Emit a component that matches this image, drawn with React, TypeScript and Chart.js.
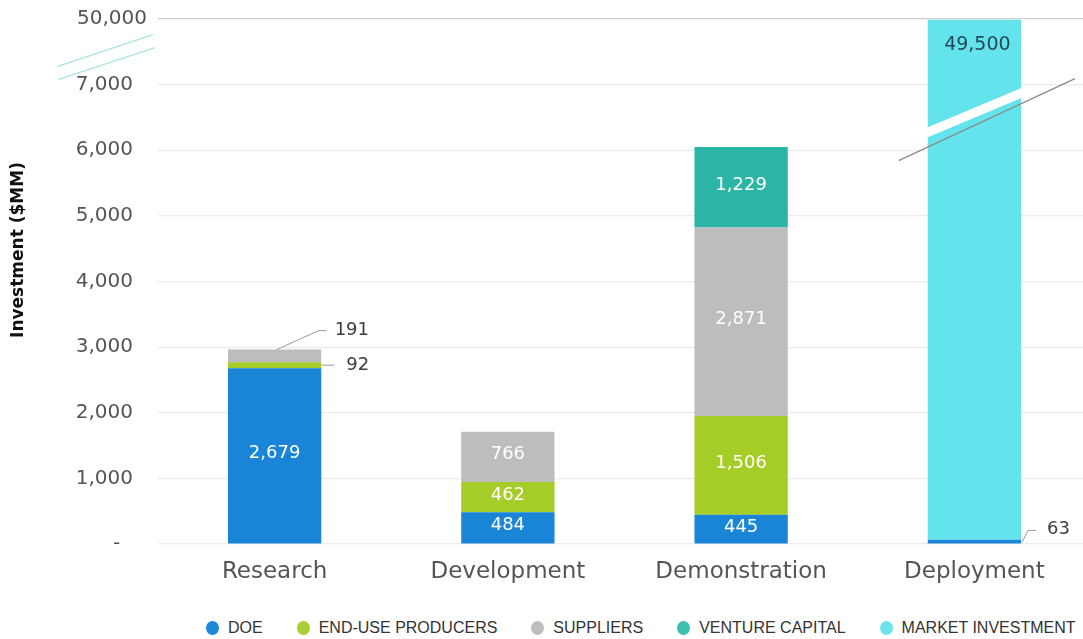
import React, { useEffect, useRef } from 'react';
import { Chart, registerables } from 'chart.js';

Chart.register(...registerables);

// ---------- data ----------
const categories = ['Research', 'Development', 'Demonstration', 'Deployment'];
const seriesNames = ['DOE', 'END-USE PRODUCERS', 'SUPPLIERS', 'VENTURE CAPITAL', 'MARKET INVESTMENT'];
const doe = [2679, 484, 445, 63];
const endUseProducers = [92, 462, 1506, null];
const suppliers = [191, 766, 2871, null];
const ventureCapital = [null, null, 1229, null];
const marketInvestment = [null, null, null, 49500];
const seriesColors = ['#1a85d6', '#a6cc27', '#bdbdbd', '#2bb5a7', '#63e3ec'];
const legendColors = ['#1e88d6', '#a6ce39', '#bcbec0', '#3fbfb2', '#6de4ec'];
const yTickValues = [0, 1000, 2000, 3000, 4000, 5000, 6000, 7000, 50000];
const yTickLabels = ['-  ', '1,000', '2,000', '3,000', '4,000', '5,000', '6,000', '7,000', '50,000'];
const breakLow = 7000;
const breakHigh = 50000;
// labels shown outside their segment, with a leader line
const callouts = [
  { category: 'Research', series: 'SUPPLIERS', kind: 'top' },
  { category: 'Research', series: 'END-USE PRODUCERS', kind: 'side' },
  { category: 'Deployment', series: 'DOE', kind: 'low' },
];

const rawSeries = [doe, endUseProducers, suppliers, ventureCapital, marketInvestment];

// broken axis: 0..7000 linear, 7000..50000 compressed into one step
const disp = (v: number) => (v <= breakLow ? v : breakLow + ((v - breakLow) / (breakHigh - breakLow)) * 1000);
const axisMax = disp(breakHigh);

function buildDisplaySeries() {
  const out = rawSeries.map(() => [] as (number | null)[]);
  categories.forEach((_, j) => {
    let cum = 0;
    rawSeries.forEach((s, i) => {
      const v = s[j];
      if (v == null) {
        out[i].push(null);
        return;
      }
      const start = cum;
      cum += v;
      out[i].push(disp(cum) - disp(start));
    });
  });
  return out;
}

const FONT = "'DejaVu Sans', sans-serif";
const fmt = (v: number) => v.toLocaleString('en-US');

const overlayPlugin = {
  id: 'overlay',
  afterDatasetsDraw(chart: any) {
    const ctx = chart.ctx as CanvasRenderingContext2D;
    const ys = chart.scales.y;
    const area = chart.chartArea;
    const p7 = ys.getPixelForValue(disp(breakLow));
    const pTop = ys.getPixelForValue(axisMax);

    ctx.save();
    // break band across the tall bar
    const mIdx = seriesNames.indexOf('MARKET INVESTMENT');
    const mMeta = chart.getDatasetMeta(mIdx);
    rawSeries[mIdx].forEach((v, j) => {
      if (v == null || v <= breakLow) return;
      const el: any = mMeta.data[j];
      const l = el.x - el.width / 2 - 1;
      const r = el.x + el.width / 2 + 1;
      ctx.fillStyle = '#ffffff';
      ctx.beginPath();
      ctx.moveTo(l, p7 + 43);
      ctx.lineTo(r, p7 + 3);
      ctx.lineTo(r, p7 + 13);
      ctx.lineTo(l, p7 + 53);
      ctx.closePath();
      ctx.fill();
      ctx.strokeStyle = '#8a8a8a';
      ctx.lineWidth = 1.2;
      ctx.beginPath();
      ctx.moveTo(l - 28, p7 + 76);
      ctx.lineTo(r + 53, p7 - 6);
      ctx.stroke();
    });

    // y axis break marks
    ctx.strokeStyle = '#a9e4e4';
    ctx.lineWidth = 1.3;
    ctx.beginPath();
    ctx.moveTo(area.left - 101, p7 - 18);
    ctx.lineTo(area.left - 5, p7 - 50);
    ctx.moveTo(area.left - 100, p7 - 5);
    ctx.lineTo(area.left - 3, p7 - 37);
    ctx.stroke();

    // top tick label
    ctx.font = `20px ${FONT}`;
    ctx.fillStyle = '#555555';
    ctx.textAlign = 'right';
    ctx.textBaseline = 'middle';
    ctx.fillText(yTickLabels[yTickLabels.length - 1], area.left - 11, pTop);

    // value labels
    ctx.font = `18px ${FONT}`;
    rawSeries.forEach((s, i) => {
      const meta = chart.getDatasetMeta(i);
      s.forEach((v, j) => {
        if (v == null) return;
        const el: any = meta.data[j];
        const top = Math.min(el.y, el.base);
        const bottom = Math.max(el.y, el.base);
        const mid = (top + bottom) / 2;
        const right = el.x + el.width / 2;
        const co = callouts.find((c) => c.category === categories[j] && c.series === seriesNames[i]);
        const text = fmt(v);
        if (co) {
          ctx.strokeStyle = '#9a9a9a';
          ctx.lineWidth = 1;
          ctx.fillStyle = '#3d3d3d';
          ctx.textAlign = 'left';
          ctx.textBaseline = 'middle';
          ctx.beginPath();
          if (co.kind === 'top') {
            ctx.moveTo(el.x + 2, top);
            ctx.lineTo(el.x + 44, top - 19);
            ctx.lineTo(el.x + 52, top - 19);
            ctx.stroke();
            ctx.fillText(text, el.x + 60, top - 19);
          } else if (co.kind === 'side') {
            ctx.moveTo(right, mid);
            ctx.lineTo(right + 13, mid);
            ctx.stroke();
            ctx.fillText(text, right + 25, mid);
          } else {
            ctx.moveTo(right + 1, bottom - 1);
            ctx.lineTo(right + 7, bottom - 13);
            ctx.lineTo(right + 15, bottom - 13);
            ctx.stroke();
            ctx.fillText(text, right + 26, bottom - 14);
          }
          return;
        }
        ctx.textAlign = 'center';
        ctx.textBaseline = 'middle';
        if (v > breakLow) {
          ctx.fillStyle = '#234b57';
          ctx.font = `19px ${FONT}`;
          ctx.fillText(text, el.x + 3, top + 25);
          ctx.font = `18px ${FONT}`;
        } else {
          ctx.fillStyle = '#ffffff';
          ctx.fillText(text, el.x, mid - 2);
        }
      });
    });

    // y axis title
    ctx.save();
    ctx.translate(19, 250);
    ctx.rotate(-Math.PI / 2);
    ctx.font = `bold 17px ${FONT}`;
    ctx.fillStyle = '#111111';
    ctx.textAlign = 'center';
    ctx.textBaseline = 'middle';
    ctx.fillText('Investment ($MM)', 0, 0);
    ctx.restore();

    ctx.restore();
  },
};

export default function App() {
  const ref = useRef<HTMLCanvasElement | null>(null);

  useEffect(() => {
    if (!ref.current) return;
    const displaySeries = buildDisplaySeries();
    const chart = new Chart(ref.current, {
      type: 'bar',
      data: {
        labels: categories,
        datasets: seriesNames.map((name, i) => ({
          label: name,
          data: displaySeries[i],
          backgroundColor: seriesColors[i],
          borderWidth: 0,
          barPercentage: 0.4,
          categoryPercentage: 1,
        })),
      },
      options: {
        responsive: false,
        animation: false,
        layout: { padding: { top: 19, left: 0, right: 0, bottom: 0 } },
        plugins: {
          legend: { display: false },
          tooltip: { enabled: false },
          title: { display: false },
        },
        scales: {
          x: {
            stacked: true,
            grid: { display: false, drawTicks: false },
            border: { display: false },
            ticks: {
              color: '#555555',
              font: { family: FONT, size: 23 },
              padding: 14,
            },
            afterFit: (scale: any) => {
              scale.height = 56;
              scale.paddingLeft = 0;
              scale.paddingRight = 0;
            },
          },
          y: {
            stacked: true,
            min: 0,
            max: axisMax,
            afterBuildTicks: (scale: any) => {
              scale.ticks = yTickValues.map((v) => ({ value: disp(v) }));
            },
            grid: {
              color: (c: any) => (c.tick && c.tick.value === axisMax ? '#cfcfcf' : '#ebebeb'),
              lineWidth: 1.2,
              drawTicks: false,
            },
            border: { display: false },
            ticks: {
              color: '#555555',
              font: { family: FONT, size: 20 },
              padding: 25,
              callback: (value: any) => {
                const idx = yTickValues.findIndex((v) => disp(v) === value);
                if (idx < 0 || yTickValues[idx] === breakHigh) return '';
                return yTickLabels[idx];
              },
            },
            afterFit: (scale: any) => {
              scale.width = 158;
              scale.paddingTop = 0;
              scale.paddingBottom = 0;
            },
          },
        },
      },
      plugins: [overlayPlugin],
    });
    return () => chart.destroy();
  }, []);

  return (
    <div style={{ position: 'absolute', left: 0, top: 0, width: 1083, height: 639, overflow: 'hidden', background: '#fff' }}>
      <canvas ref={ref} width={1091} height={600} style={{ display: 'block', width: 1091, height: 600 }} />
      <div
        style={{
          position: 'absolute',
          left: 206,
          top: 619,
          display: 'flex',
          alignItems: 'center',
          gap: 34,
          fontFamily: "'Liberation Sans', Arial, sans-serif",
          fontSize: 16,
          color: '#333333',
          whiteSpace: 'nowrap',
          lineHeight: '18px',
        }}
      >
        {seriesNames.map((name, i) => (
          <div key={name} style={{ display: 'flex', alignItems: 'center' }}>
            <span
              style={{
                display: 'inline-block',
                width: 13,
                height: 14,
                borderRadius: '50%',
                background: legendColors[i],
                marginRight: 9,
              }}
            />
            <span>{name}</span>
          </div>
        ))}
      </div>
    </div>
  );
}
